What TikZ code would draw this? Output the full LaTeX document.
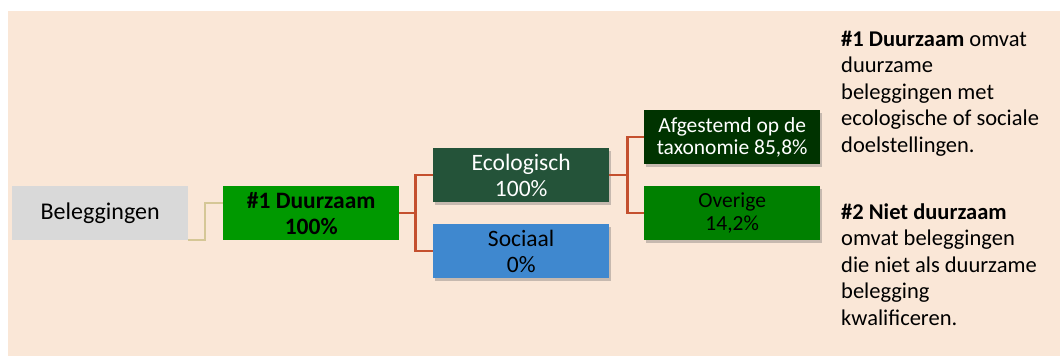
\documentclass[tikz,border=0pt]{standalone}
\usepackage{fontspec}
\setmainfont{Carlito}
\usetikzlibrary{shadows,positioning}
\definecolor{peach}{HTML}{FAE7D7}
\definecolor{greyb}{HTML}{D9D9D9}
\definecolor{green1}{HTML}{009900}
\definecolor{ecogreen}{HTML}{245339}
\definecolor{socblue}{HTML}{3F88CF}
\definecolor{darkgreen}{HTML}{003300}
\definecolor{midgreen}{HTML}{008000}
\definecolor{redline}{HTML}{C4502E}
\definecolor{tanline}{HTML}{D5C796}
\tikzset{
  x=1pt,y=-1pt,
  box/.style={anchor=north west, minimum width=176pt, minimum height=54pt, inner sep=0pt, align=center},
  shad/.style={drop shadow={shadow xshift=2pt, shadow yshift=-3pt, opacity=0.35, fill=black!60}},
  bigtxt/.style={font=\fontsize{23.5}{26}\selectfont},
  smalltxt/.style={font=\fontsize{21.5}{22.5}\selectfont},
  redc/.style={draw=redline, line width=2.2pt},
  tanc/.style={draw=tanline, line width=2pt}
}
\begin{document}
\begin{tikzpicture}
\useasboundingbox (0,0) rectangle (1060,356);
\fill[peach] (8,11) rectangle (1060,356);

\node[box, font=\fontsize{24}{26}\selectfont, fill=greyb] (bel) at (12,186) {Beleggingen};
\node[box, fill=green1, font=\fontsize{23.5}{26}\selectfont\bfseries] (duur) at (223,186) {\#1 Duurzaam\\100\%};
\node[box, bigtxt, fill=ecogreen, text=white, shad] (eco) at (433,148) {Ecologisch\\100\%};
\node[box, bigtxt, fill=socblue, text=black, shad] (soc) at (433,224) {Sociaal\\0\%};
\node[box, smalltxt, fill=darkgreen, text=white, shad] (afg) at (644,110) {Afgestemd op de\\taxonomie 85,8\%};
\node[box, font=\fontsize{21.5}{23}\selectfont, fill=midgreen, text=black, shad] (ove) at (644,186) {Overige\\14,2\%};

% connectors
\draw[tanc] (bel.south east) -- ++(17,0) |- ([yshift=10pt]duur.west);
\draw[redc] (duur.east) -- ++(16,0) coordinate (j1);
\draw[redc] (j1) |- (eco.west);
\draw[redc] (j1) |- (soc.west);
\draw[redc] (eco.east) -- ++(18,0) coordinate (j2);
\draw[redc] (j2) |- (afg.west);
\draw[redc] (j2) |- (ove.west);

\node[anchor=north west, align=left, inner sep=0pt, font=\fontsize{22.5}{26.4}\selectfont] (note) at (841,31)
{\textbf{\#1 Duurzaam} omvat\\duurzame\\beleggingen met\\ecologische of sociale\\doelstellingen.\\[41pt]
\textbf{\#2 Niet duurzaam}\\omvat beleggingen\\die niet als duurzame\\belegging\\kwalificeren.};
\end{tikzpicture}
\end{document}
